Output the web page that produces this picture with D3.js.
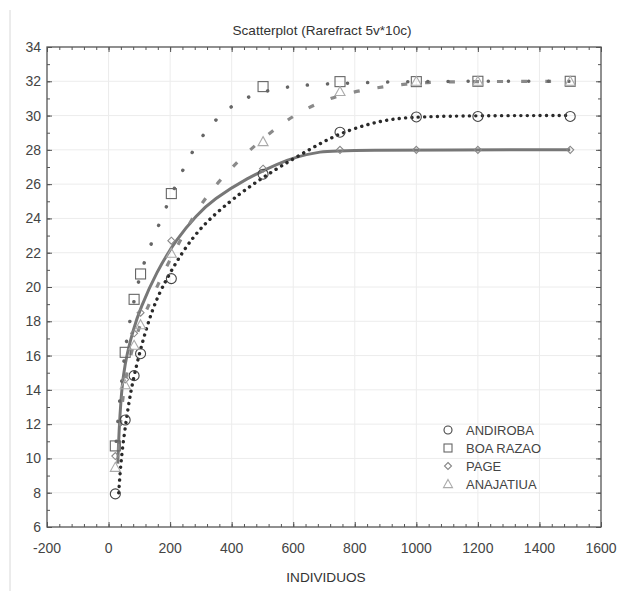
<!DOCTYPE html>
<html><head><meta charset="utf-8">
<script src="https://cdn.jsdelivr.net/npm/d3@7"></script>
<style>body{margin:0;background:#fff;}svg{display:block;font-family:"Liberation Sans",Arial,sans-serif;}</style>
</head><body>
<svg id="c" width="621" height="591"></svg>
<script>
// ---- data ----
const sampleSizes = [22, 54, 83, 104, 204, 502, 752, 1000, 1200, 1500];
const andiroba  = [7.93, 12.24, 14.83, 16.11, 20.49, 26.58, 29.03, 29.92, 29.95, 29.95];
const boaRazao  = [10.73, 16.19, 19.28, 20.76, 25.45, 31.69, 31.98, 31.98, 32, 32];
const page      = [10.14, 14.6, 17.3, 18.5, 22.7, 26.9, 28, 28, 28, 28];
const anajatiua = [9.48, 14.3, 16.6, 17.8, 21.97, 28.48, 31.4, 32, 32, 32];

// fitted curves [x, y]
const fitAndiroba = [[33,8],[38,9.3],[45,10.6],[58,12.3],[70,13.7],[85,15],[107,16.6],[135,18.3],[167,19.8],[240,22.1],[310,23.7],[395,25.0],[450,25.75],[503,26.4],[560,27.05],[622,27.7],[690,28.4],[752,28.95],[840,29.5],[920,29.8],[1000,29.93],[1200,30],[1500,30]];
const fitBoaRazao = [[25,11],[33,12.8],[43,14.6],[53,16.2],[67,17.9],[95,20.2],[113,21.3],[140,22.6],[164,23.65],[187,24.65],[210,25.6],[230,26.4],[260,27.5],[296,28.6],[339,29.6],[390,30.45],[447,31.05],[503,31.4],[570,31.65],[635,31.77],[700,31.85],[830,31.92],[1000,32],[1500,32]];
const fitPage = [[30,9.7],[34,11.6],[40,13.4],[48,14.9],[60,16.1],[80,17.5],[102,18.7],[156,20.9],[221,22.8],[286,24.2],[340,25.1],[449,26.35],[557,27.25],[611,27.6],[690,27.9],[750,28],[1500,28]];
const fitAnajatiua = [[33,10.5],[40,12.4],[48,13.8],[59,15.0],[75,16.3],[102,17.8],[132,19.0],[162,20.2],[194,21.4],[250,23.3],[302,24.9],[353,26.05],[405,27.05],[459,28],[519,28.9],[576,29.7],[644,30.42],[710,30.95],[784,31.34],[862,31.6],[936,31.78],[1017,31.92],[1087,31.98],[1500,32]];

const seriesNames = ["ANDIROBA", "BOA RAZAO", "PAGE", "ANAJATIUA"];
const xTicks = [-200, 0, 200, 400, 600, 800, 1000, 1200, 1400, 1600];
const yTicks = [6, 8, 10, 12, 14, 16, 18, 20, 22, 24, 26, 28, 30, 32, 34];
const title = "Scatterplot (Rarefract 5v*10c)";
const xTitle = "INDIVIDUOS";

// ---- layout ----
const svg = d3.select("#c");
const L = 47, R = 601, T = 47, B = 527;
const x = d3.scaleLinear().domain([-200, 1600]).range([L, R]);
const y = d3.scaleLinear().domain([6, 34]).range([B, T]);

// faint page frame line
svg.append("line").attr("x1", 10).attr("x2", 10).attr("y1", 10).attr("y2", 591)
  .attr("stroke", "#d8d8d8").attr("stroke-width", 1);

// grid
const g = svg.append("g");
g.selectAll(".gx").data(xTicks.slice(1, -1)).enter().append("line")
  .attr("x1", d => x(d)).attr("x2", d => x(d)).attr("y1", T).attr("y2", B)
  .attr("stroke", "#ececec").attr("stroke-width", 1);
g.selectAll(".gy").data(yTicks.slice(1, -1)).enter().append("line")
  .attr("y1", d => y(d)).attr("y2", d => y(d)).attr("x1", L).attr("x2", R)
  .attr("stroke", "#ececec").attr("stroke-width", 1);

// axes (ticks inward)
const xMinor = d3.range(-200, 1600.1, 40);
const yMinor = d3.range(6, 34.1, 1);
const axCol = "#555";
function addAxis(axis, tr) {
  const a = svg.append("g").attr("transform", tr).call(axis);
  a.select(".domain").remove();
  a.selectAll("line").attr("stroke", axCol);
  return a;
}
addAxis(d3.axisTop(x).tickValues(xMinor).tickSize(3).tickFormat(""), `translate(0,${B})`);
addAxis(d3.axisTop(x).tickValues(xTicks).tickSize(5).tickFormat(""), `translate(0,${B})`);
addAxis(d3.axisBottom(x).tickValues(xMinor).tickSize(3).tickFormat(""), `translate(0,${T})`);
addAxis(d3.axisBottom(x).tickValues(xTicks).tickSize(5).tickFormat(""), `translate(0,${T})`);
addAxis(d3.axisRight(y).tickValues(yMinor).tickSize(3).tickFormat(""), `translate(${L},0)`);
addAxis(d3.axisRight(y).tickValues(yTicks).tickSize(5).tickFormat(""), `translate(${L},0)`);
addAxis(d3.axisLeft(y).tickValues(yMinor).tickSize(3).tickFormat(""), `translate(${R},0)`);
addAxis(d3.axisLeft(y).tickValues(yTicks).tickSize(5).tickFormat(""), `translate(${R},0)`);

svg.append("rect").attr("x", L).attr("y", T).attr("width", R - L).attr("height", B - T)
  .attr("fill", "none").attr("stroke", axCol).attr("stroke-width", 1.3);

// tick labels
svg.selectAll(".xl").data(xTicks).enter().append("text")
  .attr("x", d => x(d)).attr("y", B + 26).attr("text-anchor", "middle")
  .attr("font-size", 14).attr("fill", "#444").text(d => d);
svg.selectAll(".yl").data(yTicks).enter().append("text")
  .attr("x", L - 6).attr("y", d => y(d) + 5).attr("text-anchor", "end")
  .attr("font-size", 14).attr("fill", "#444").text(d => d);

svg.append("text").attr("x", 322).attr("y", 35).attr("text-anchor", "middle")
  .attr("font-size", 13.6).attr("fill", "#333").text(title);
svg.append("text").attr("x", 326).attr("y", 582).attr("text-anchor", "middle")
  .attr("font-size", 13.6).attr("fill", "#333").text(xTitle);

// clip
svg.append("clipPath").attr("id", "clp").append("rect")
  .attr("x", L).attr("y", T).attr("width", R - L).attr("height", B - T);
const plot = svg.append("g").attr("clip-path", "url(#clp)");

const line = d3.line().x(d => x(d[0])).y(d => y(d[1])).curve(d3.curveBasis);

// fit lines
plot.append("path").datum(fitPage).attr("d", line).attr("fill", "none")
  .attr("stroke", "#777").attr("stroke-width", 3);
plot.append("path").datum(fitAnajatiua).attr("d", line).attr("fill", "none")
  .attr("stroke", "#8a8a8a").attr("stroke-width", 3.2).attr("stroke-dasharray", "6,18");
plot.append("path").datum(fitBoaRazao).attr("d", line).attr("fill", "none")
  .attr("stroke", "#666").attr("stroke-width", 3.5).attr("stroke-linecap", "round")
  .attr("stroke-dasharray", "0.1,20");
plot.append("path").datum(fitAndiroba).attr("d", line).attr("fill", "none")
  .attr("stroke", "#2a2a2a").attr("stroke-width", 3.4).attr("stroke-linecap", "round")
  .attr("stroke-dasharray", "0.1,6.3");

// markers
const pts = v => sampleSizes.map((s, i) => [s, v[i]]);
const mk = {
  circle: (sel, cx, cy, s) => sel.append("circle").attr("cx", cx).attr("cy", cy).attr("r", s),
  square: (sel, cx, cy, s) => sel.append("rect").attr("x", cx - s).attr("y", cy - s).attr("width", 2 * s).attr("height", 2 * s),
  diamond: (sel, cx, cy, s) => sel.append("path").attr("d", `M${cx},${cy - s}L${cx + s},${cy}L${cx},${cy + s}L${cx - s},${cy}Z`),
  triangle: (sel, cx, cy, s) => sel.append("path").attr("d", `M${cx},${cy - s}L${cx + s},${cy + s * 0.8}L${cx - s},${cy + s * 0.8}Z`)
};
const styles = [
  {shape: "circle", size: 5, col: "#444", leg: 4},
  {shape: "square", size: 5, col: "#666", leg: 4},
  {shape: "diamond", size: 3.5, col: "#888", leg: 3.5},
  {shape: "triangle", size: 5, col: "#aaa", leg: 4.5}
];
const allVals = [andiroba, boaRazao, page, anajatiua];
allVals.forEach((v, k) => {
  const st = styles[k];
  const gg = plot.append("g").attr("fill", "none").attr("stroke", st.col).attr("stroke-width", 1.1);
  pts(v).forEach(p => mk[st.shape](gg, x(p[0]), y(p[1]), st.size));
});

// legend
const legY = [430, 448, 466, 484];
seriesNames.forEach((n, k) => {
  const st = styles[k];
  const gg = svg.append("g").attr("fill", "none").attr("stroke", st.col).attr("stroke-width", 1.1);
  mk[st.shape](gg, 448, legY[k], st.leg);
  svg.append("text").attr("x", 466).attr("y", legY[k] + 5).attr("font-size", 13)
    .attr("fill", "#444").text(n);
});
</script>
</body></html>
